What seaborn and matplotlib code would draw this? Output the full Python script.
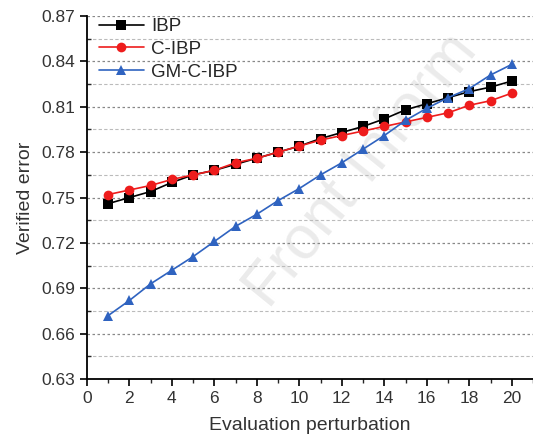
import pandas as pd
import seaborn as sns
import matplotlib.pyplot as plt
from matplotlib.ticker import MultipleLocator, FormatStrFormatter

sns.set_style('white')
plt.rcParams['font.family'] = ['Liberation Sans', 'DejaVu Sans']

perturbation = list(range(1, 21))
ibp = [0.746, 0.750, 0.754, 0.760, 0.765, 0.768, 0.772, 0.776, 0.780, 0.784,
       0.789, 0.793, 0.797, 0.802, 0.808, 0.812, 0.816, 0.820, 0.823, 0.827]
c_ibp = [0.752, 0.755, 0.758, 0.762, 0.765, 0.768, 0.773, 0.776, 0.780, 0.784,
         0.788, 0.791, 0.794, 0.797, 0.800, 0.803, 0.806, 0.811, 0.814, 0.819]
gm_c_ibp = [0.672, 0.682, 0.693, 0.702, 0.711, 0.721, 0.731, 0.739, 0.748, 0.756,
            0.765, 0.773, 0.782, 0.791, 0.801, 0.809, 0.816, 0.822, 0.831, 0.838]
methods = ['IBP', 'C-IBP', 'GM-C-IBP']
colors = {'IBP': '#000000', 'C-IBP': '#ee1c1c', 'GM-C-IBP': '#2f63c0'}
markers = {'IBP': 's', 'C-IBP': 'o', 'GM-C-IBP': '^'}

df = pd.DataFrame({'x': perturbation, 'IBP': ibp, 'C-IBP': c_ibp, 'GM-C-IBP': gm_c_ibp})
df = df.melt(id_vars='x', var_name='method', value_name='err')

fig = plt.figure(figsize=(5.33, 4.44), dpi=100)
ax = fig.add_axes([0.163, 0.146, 0.837, 0.818])

# faint watermark behind the data
ax.text(0.33, 0.17, 'Front Inform', transform=ax.transAxes, rotation=51,
        fontsize=44, color='#ebebeb', ha='left', va='bottom', zorder=0)

sns.lineplot(data=df, x='x', y='err', hue='method', style='method',
             hue_order=methods, style_order=methods, palette=colors,
             markers=markers, dashes=False, markersize=7, mew=0,
             linewidth=1.2, ax=ax, zorder=3)

ax.set_xlim(0, 21)
ax.set_ylim(0.63, 0.87)
ax.xaxis.set_major_locator(MultipleLocator(2))
ax.xaxis.set_minor_locator(MultipleLocator(1))
ax.yaxis.set_major_locator(MultipleLocator(0.03))
ax.yaxis.set_minor_locator(MultipleLocator(0.015))
ax.yaxis.set_major_formatter(FormatStrFormatter('%.2f'))

ax.grid(which='major', axis='y', color='#888888', linestyle=(0, (2, 2)), linewidth=0.9)
ax.grid(which='minor', axis='y', color='#bbbbbb', linestyle=(0, (3, 2)), linewidth=0.8)
ax.grid(which='both', axis='x', visible=False)
ax.set_axisbelow(True)

sns.despine(ax=ax, top=True, right=True)
for s in ['left', 'bottom']:
    ax.spines[s].set_linewidth(1.3)
    ax.spines[s].set_color('black')

ax.tick_params(which='major', direction='out', length=5, width=1.2, labelsize=12.5,
               bottom=True, left=True, colors='black', labelcolor='#333333')
ax.tick_params(axis='x', which='minor', direction='out', length=3, width=1.0, bottom=True)
ax.tick_params(axis='y', which='minor', direction='in', length=3, width=1.0, left=True)

ax.set_xlabel('Evaluation perturbation', fontsize=14, color='#333333', labelpad=8)
ax.set_ylabel('Verified error', fontsize=14, color='#333333', labelpad=5)

handles, labels = ax.get_legend_handles_labels()
ax.legend(handles, labels, loc='upper left', frameon=False, fontsize=13.5,
          handlelength=2.4, handletextpad=0.4, borderaxespad=0.0,
          labelspacing=0.3, bbox_to_anchor=(0.01, 1.015))

fig.savefig('out.png', dpi=100)
